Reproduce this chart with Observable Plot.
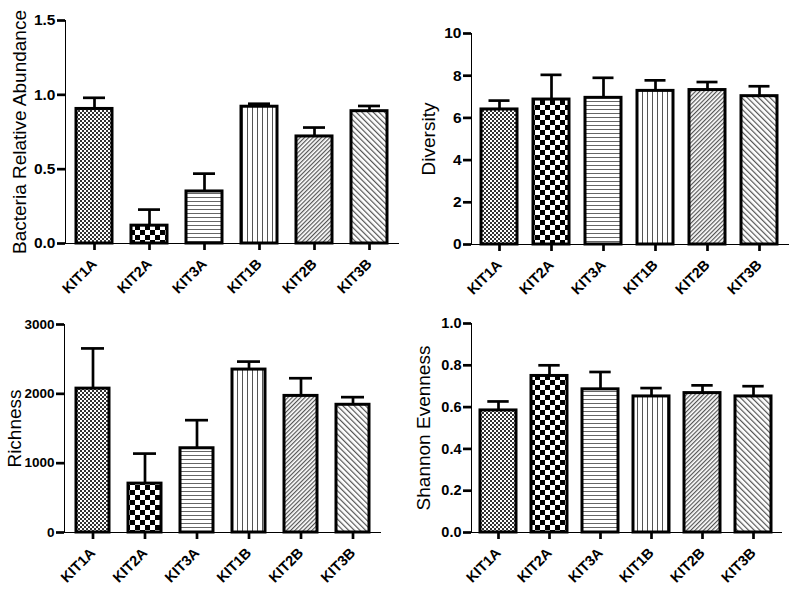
<!DOCTYPE html>
<html>
<head>
<meta charset="utf-8">
<script src="https://cdn.jsdelivr.net/npm/d3@7"></script>
<script src="https://cdn.jsdelivr.net/npm/@observablehq/plot@0.6"></script>
<style>
  body { margin: 0; background: white; }
  #wrap { position: relative; width: 792px; height: 592px; background: white; }
  #wrap > div.panel { position: absolute; }
</style>
</head>
<body>
<div id="wrap"></div>
<script>
// ---- data ----
const kits = ["KIT1A", "KIT2A", "KIT3A", "KIT1B", "KIT2B", "KIT3B"];

const abundanceMean = [0.905, 0.12, 0.35, 0.92, 0.72, 0.89];
const abundanceSD   = [0.075, 0.108, 0.12, 0.02, 0.06, 0.035];
const abundanceTicks = [0, 0.5, 1.0, 1.5];

const diversityMean = [6.4, 6.87, 6.95, 7.28, 7.32, 7.03];
const diversitySD   = [0.42, 1.17, 0.95, 0.5, 0.38, 0.47];
const diversityTicks = [0, 2, 4, 6, 8, 10];

const richnessMean = [2075, 705, 1215, 2350, 1970, 1842];
const richnessSD   = [580, 433, 405, 115, 255, 110];
const richnessTicks = [0, 1000, 2000, 3000];

const evennessMean = [0.584, 0.749, 0.685, 0.651, 0.667, 0.651];
const evennessSD   = [0.043, 0.051, 0.083, 0.04, 0.037, 0.049];
const evennessTicks = [0, 0.2, 0.4, 0.6, 0.8, 1.0];

// ---- patterns (shared defs) ----
const defsSvg = d3.select("body").append("svg")
  .attr("width", 0).attr("height", 0)
  .style("position", "absolute").style("left", "0").style("top", "0");
const defs = defsSvg.append("defs");
function pat(id, size, transform) {
  const p = defs.append("pattern").attr("id", id)
    .attr("patternUnits", "userSpaceOnUse")
    .attr("width", size).attr("height", size);
  if (transform) p.attr("patternTransform", transform);
  p.append("rect").attr("width", size).attr("height", size).attr("fill", "white");
  return p;
}
// KIT1A fine checker
let p = pat("pat0", 4);
p.append("rect").attr("x", 0).attr("y", 0).attr("width", 2).attr("height", 2).attr("fill", "#333");
p.append("rect").attr("x", 2).attr("y", 2).attr("width", 2).attr("height", 2).attr("fill", "#333");
// KIT2A coarse checker
p = pat("pat1", 10);
p.append("rect").attr("x", 0).attr("y", 0).attr("width", 5).attr("height", 5).attr("fill", "black");
p.append("rect").attr("x", 5).attr("y", 5).attr("width", 5).attr("height", 5).attr("fill", "black");
// KIT3A horizontal lines
p = pat("pat2", 4);
p.append("rect").attr("x", 0).attr("y", 1).attr("width", 4).attr("height", 1).attr("fill", "#666");
// KIT1B vertical lines
p = pat("pat3", 5);
p.append("rect").attr("x", 2).attr("y", 0).attr("width", 1).attr("height", 5).attr("fill", "#555");
// KIT2B "/" diagonals
p = pat("pat4", 3, "rotate(45)");
p.append("rect").attr("x", 0).attr("y", 0).attr("width", 1.2).attr("height", 3).attr("fill", "#555");
// KIT3B "\" diagonals
p = pat("pat5", 4, "rotate(-45)");
p.append("rect").attr("x", 0).attr("y", 0).attr("width", 1.2).attr("height", 4).attr("fill", "#555");

// ---- panels ----
const panels = [
  {left: 0, top: 0, width: 400, height: 300, mt: 20, mb: 57, ml: 65, mr: 2,
   mean: abundanceMean, sd: abundanceSD, ticks: abundanceTicks, domain: [0, 1.5], fmt: ".1f",
   label: "Bacteria Relative Abundance", dx: -46, pad: 0.35, cap: 7, yfs: 15.5},
  {left: 400, top: 0, width: 392, height: 300, mt: 33, mb: 56, ml: 71, mr: 4,
   mean: diversityMean, sd: diversitySD, ticks: diversityTicks, domain: [0, 10], fmt: "d",
   label: "Diversity", dx: -43, pad: 0.3, cap: 7.5, yfs: 15.5},
  {left: 0, top: 290, width: 400, height: 302, mt: 34, mb: 60, ml: 64, mr: 20,
   mean: richnessMean, sd: richnessSD, ticks: richnessTicks, domain: [0, 3000], fmt: "d",
   label: "Richness", dx: -50, pad: 0.37, cap: 5, yfs: 13.5},
  {left: 400, top: 290, width: 392, height: 302, mt: 33, mb: 60, ml: 71, mr: 11,
   mean: evennessMean, sd: evennessSD, ticks: evennessTicks, domain: [0, 1.0], fmt: ".1f",
   label: "Shannon Evenness", dx: -48, pad: 0.29, cap: 7.3, yfs: 14.5}
];

const wrap = document.getElementById("wrap");
for (const cfg of panels) {
  const data = kits.map((k, i) => ({kit: k, mean: cfg.mean[i], top: cfg.mean[i] + cfg.sd[i], fill: `url(#pat${i})`}));
  const chart = Plot.plot({
    width: cfg.width,
    height: cfg.height,
    marginTop: cfg.mt,
    marginBottom: cfg.mb,
    marginLeft: cfg.ml,
    marginRight: cfg.mr,
    style: {fontFamily: "'Liberation Sans', Arial, sans-serif", fontSize: "15px", fontWeight: "bold",
            background: "none", overflow: "visible", color: "black"},
    x: {domain: kits, paddingInner: cfg.pad, paddingOuter: cfg.pad / 2, tickSize: 7, tickPadding: 11,
        tickRotate: -45, label: null, line: true},
    y: {domain: cfg.domain, ticks: cfg.ticks, tickFormat: d3.format(cfg.fmt), tickSize: 8, tickPadding: 2,
        label: null, line: true},
    color: {type: "identity"},
    marks: [
      Plot.ruleX(data, {x: "kit", y1: "mean", y2: "top", stroke: "black", strokeWidth: 2.7}),
      Plot.barY(data, {x: "kit", y: "mean", fill: "fill", stroke: "black", strokeWidth: 3}),
      Plot.tickY(data, {x: "kit", y: "top", stroke: "black", strokeWidth: 2.7,
                        insetLeft: cfg.cap, insetRight: cfg.cap}),
      Plot.text([cfg.label], {text: d => d, frameAnchor: "left", textAnchor: "middle", rotate: -90, dx: cfg.dx,
                              fontSize: 19, fontWeight: "normal", fill: "black"})
    ]
  });
  const c = d3.select(chart);
  c.selectAll('[aria-label^="x-axis"], [aria-label^="y-axis"]').attr("stroke-width", 2.7);
  c.selectAll('[aria-label^="y-axis"] text')
    .style("font-size", cfg.yfs + "px").style("font-weight", "bold")
    .style("font-family", "'Liberation Sans', Arial, sans-serif");
  c.selectAll('[aria-label^="x-axis"] text')
    .style("font-size", "14.5px").style("font-weight", "bold")
    .style("font-family", "'Liberation Sans', Arial, sans-serif");
  const div = document.createElement("div");
  div.className = "panel";
  div.style.left = cfg.left + "px";
  div.style.top = cfg.top + "px";
  div.appendChild(chart);
  wrap.appendChild(div);
}
</script>
</body>
</html>
